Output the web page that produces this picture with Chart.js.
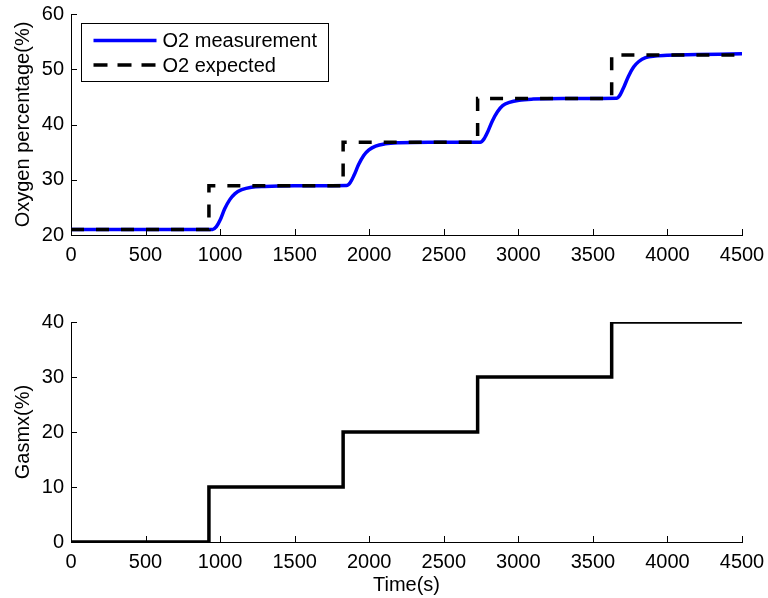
<!DOCTYPE html>
<html>
<head>
<meta charset="utf-8">
<title>O2 step response</title>
<script src="https://cdn.jsdelivr.net/npm/chart.js@4/dist/chart.umd.min.js"></script>
<style>
  body { margin: 0; background: #fff; }
  #wrap { position: relative; width: 768px; height: 598px; }
  canvas { position: absolute; left: 0; }
  #o2Chart { top: 0; }
  #gasChart { top: 290px; }
</style>
</head>
<body>
<div id="wrap">
  <canvas id="o2Chart" width="768" height="290"></canvas>
  <canvas id="gasChart" width="768" height="308"></canvas>
</div>
<script>
// setpoint changes (s)
const stepTimes = [0, 925, 1825, 2727, 3626, 4500];
const o2Expected = [21, 28.9, 36.8, 44.7, 52.6, 52.6];
const gasmx = [0, 10, 20, 30, 40, 40];

// measured O2 response
const measTimes = [
  0, 950, 975, 1000, 1030, 1065, 1100, 1145, 1210, 1300, 1500, 1848,
  1873, 1898, 1928, 1963, 1998, 2043, 2108, 2200, 2400, 2745,
  2770, 2795, 2825, 2860, 2895, 2940, 3005, 3100, 3300, 3658,
  3683, 3708, 3738, 3773, 3808, 3853, 3918, 4000, 4200, 4500
];
const measO2 = [
  21, 21, 21.5, 22.7, 24.7, 26.4, 27.5, 28.2, 28.65, 28.8, 28.9, 28.95,
  29.5, 30.8, 32.7, 34.4, 35.4, 36.1, 36.5, 36.7, 36.8, 36.8,
  37.4, 38.7, 40.6, 42.3, 43.4, 44.0, 44.4, 44.6, 44.7, 44.75,
  45.4, 46.8, 48.7, 50.4, 51.4, 52.1, 52.4, 52.55, 52.65, 52.8
];

const xTicks = [0, 500, 1000, 1500, 2000, 2500, 3000, 3500, 4000, 4500];

const FONT = { family: '"Liberation Sans", Arial, Helvetica, sans-serif', size: 20 };

const toPoints = (xs, ys) => xs.map((x, i) => ({ x, y: ys[i] }));

// tick marks pointing into the plot, matlab style
const innerTicks = {
  id: 'innerTicks',
  afterDraw(chart) {
    const { ctx, chartArea: a, scales } = chart;
    ctx.save();
    ctx.strokeStyle = '#000';
    ctx.lineWidth = 1;
    ctx.beginPath();
    scales.x.ticks.forEach((t) => {
      const px = Math.round(scales.x.getPixelForValue(t.value)) + 0.5;
      ctx.moveTo(px, a.bottom);
      ctx.lineTo(px, a.bottom - 6);
    });
    scales.y.ticks.forEach((t) => {
      const py = Math.round(scales.y.getPixelForValue(t.value)) + 0.5;
      ctx.moveTo(a.left, py);
      ctx.lineTo(a.left + 6, py);
    });
    ctx.stroke();
    ctx.restore();
  }
};

// boxed legend in the upper left corner of the plot
const boxLegend = {
  id: 'boxLegend',
  afterDraw(chart) {
    const { ctx, chartArea: a } = chart;
    const sets = chart.data.datasets;
    const x0 = Math.round(a.left + 10) + 0.5;
    const y0 = Math.round(a.top + 9) + 0.5;
    const w = 247, h = 58;
    ctx.save();
    ctx.fillStyle = '#fff';
    ctx.fillRect(x0, y0, w, h);
    ctx.strokeStyle = '#000';
    ctx.lineWidth = 1;
    ctx.strokeRect(x0, y0, w, h);
    sets.forEach((ds, i) => {
      const y = y0 + 17 + i * 24.5;
      ctx.beginPath();
      ctx.strokeStyle = ds.borderColor;
      ctx.lineWidth = ds.borderWidth;
      ctx.setLineDash(ds.legendDash || []);
      ctx.moveTo(x0 + 12, y);
      ctx.lineTo(x0 + 75, y);
      ctx.stroke();
      ctx.setLineDash([]);
      ctx.fillStyle = '#000';
      ctx.font = `${FONT.size}px ${FONT.family}`;
      ctx.textBaseline = 'middle';
      ctx.fillText(ds.label, x0 + 81, y + 1);
    });
    ctx.restore();
  }
};

function xScale(withTitle) {
  return {
    type: 'linear',
    min: 0,
    max: 4500,
    afterBuildTicks: (s) => { s.ticks = xTicks.map((v) => ({ value: v })); },
    grid: { display: false, drawTicks: false },
    border: { display: true, color: '#000', width: 1 },
    ticks: {
      color: '#000',
      font: FONT,
      padding: 8,
      maxRotation: 0,
      autoSkip: false,
      callback: (v) => String(v)
    },
    title: {
      display: withTitle,
      text: 'Time(s)',
      color: '#000',
      font: FONT,
      padding: { top: 0, bottom: 1 }
    },
    // fixed axis size; the layout padding alone decides the plot edges
    afterFit: (s) => {
      s.height = withTitle ? 56 : 55;
      s.paddingLeft = 0;
      s.paddingRight = 0;
    }
  };
}

function yScale(min, max, label) {
  return {
    min,
    max,
    ticks: { stepSize: 10, color: '#000', font: FONT, padding: 7, callback: (v) => String(v) },
    grid: { display: false, drawTicks: false },
    border: { display: true, color: '#000', width: 1 },
    title: {
      display: true,
      text: label,
      color: '#000',
      font: FONT,
      padding: { top: 11, bottom: 0 }
    },
    afterFit: (s) => {
      s.width = 71;
      s.paddingTop = 0;
      s.paddingBottom = 0;
    }
  };
}

new Chart(document.getElementById('o2Chart'), {
  type: 'line',
  data: {
    datasets: [
      {
        label: 'O2 measurement',
        data: toPoints(measTimes, measO2),
        borderColor: '#0000ff',
        borderWidth: 3.5,
        pointRadius: 0,
        cubicInterpolationMode: 'monotone',
        order: 2
      },
      {
        label: 'O2 expected',
        data: toPoints(stepTimes, o2Expected),
        borderColor: '#000',
        borderWidth: 3.5,
        borderDash: [13, 12],
        legendDash: [14, 10],
        pointRadius: 0,
        stepped: 'before',
        order: 1
      }
    ]
  },
  options: {
    responsive: false,
    animation: false,
    layout: { padding: { top: 14, right: 26, left: 0, bottom: 0 } },
    plugins: { legend: { display: false }, tooltip: { enabled: false } },
    scales: {
      x: xScale(false),
      y: yScale(20, 60, 'Oxygen percentage(%)')
    }
  },
  plugins: [innerTicks, boxLegend]
});

new Chart(document.getElementById('gasChart'), {
  type: 'line',
  data: {
    datasets: [
      {
        label: 'Gasmx',
        data: toPoints(stepTimes, gasmx),
        borderColor: '#000',
        borderWidth: 3.5,
        pointRadius: 0,
        stepped: 'before'
      }
    ]
  },
  options: {
    responsive: false,
    animation: false,
    layout: { padding: { top: 32, right: 26, left: 0, bottom: 0 } },
    plugins: { legend: { display: false }, tooltip: { enabled: false } },
    scales: {
      x: xScale(true),
      y: yScale(0, 40, 'Gasmx(%)')
    }
  },
  plugins: [innerTicks]
});
</script>
</body>
</html>
